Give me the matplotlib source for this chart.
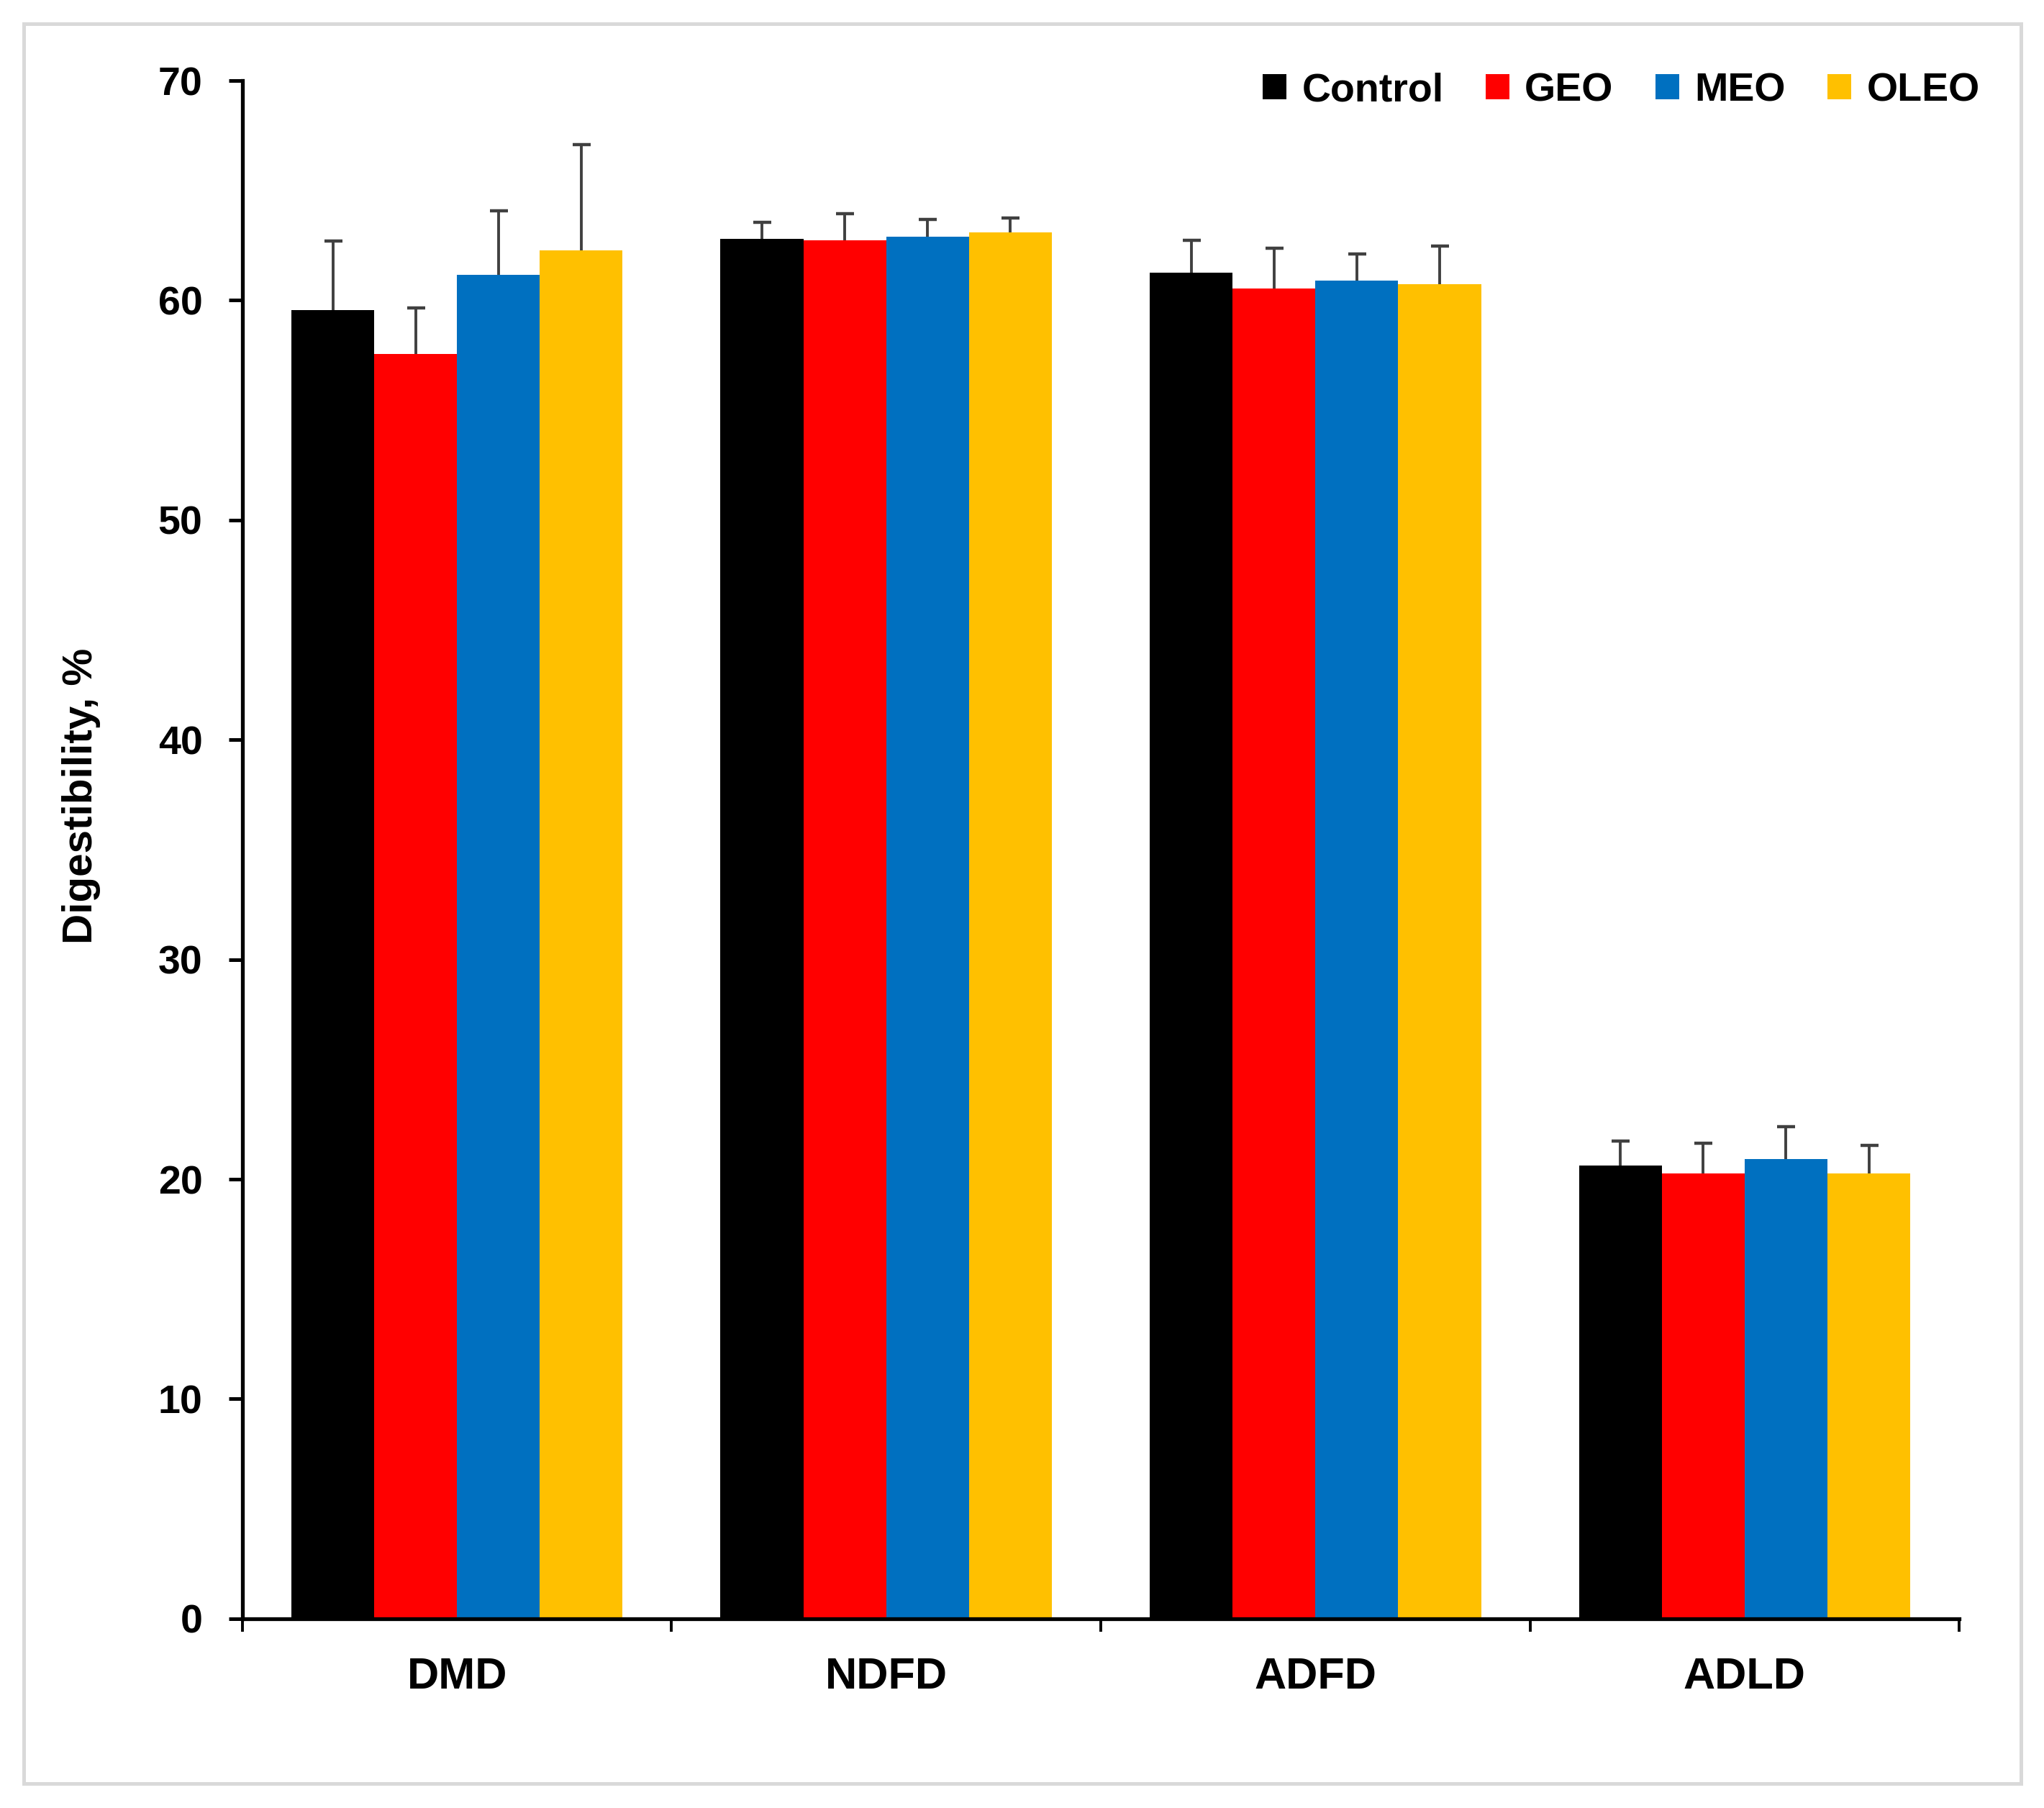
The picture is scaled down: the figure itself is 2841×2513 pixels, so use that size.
import matplotlib
matplotlib.use("Agg")
import matplotlib.pyplot as plt
from matplotlib.patches import Rectangle
import numpy as np

categories = ["DMD", "NDFD", "ADFD", "ADLD"]
series = ["Control", "GEO", "MEO", "OLEO"]
colors = ["#000000", "#FF0000", "#0070C0", "#FFC000"]
means = {
    "Control": [59.55, 62.80, 61.26, 20.62],
    "GEO":     [57.55, 62.72, 60.55, 20.28],
    "MEO":     [61.17, 62.90, 60.90, 20.92],
    "OLEO":    [62.28, 63.08, 60.74, 20.28],
}
errors = {
    "Control": [3.15, 0.75, 1.47, 1.12],
    "GEO":     [2.10, 1.22, 1.83, 1.36],
    "MEO":     [2.92, 0.77, 1.22, 1.48],
    "OLEO":    [4.80, 0.68, 1.72, 1.26],
}
yticks = [0, 10, 20, 30, 40, 50, 60, 70]

plt.rcParams['font.family'] = ['Liberation Sans', 'DejaVu Sans']
fig = plt.figure(figsize=(14.205, 12.565), dpi=200)
ax = fig.add_axes([0.1186, 0.1047, 0.8399, 0.8507])

x = np.arange(len(categories))
bw = 0.193
for i, s in enumerate(series):
    pos = x + (i - 1.5) * bw
    ax.bar(pos, means[s], width=bw, color=colors[i], label=s, zorder=2)
    eb = ax.errorbar(pos, means[s], yerr=[np.zeros(len(categories)), errors[s]],
                     fmt="none", ecolor="#404040", elinewidth=1.4, capsize=4.5,
                     capthick=1.6, zorder=3)
    caps = eb[1]
    if len(caps) > 0:
        caps[0].set_visible(False)

ax.set_xlim(-0.5, 3.5)
ax.set_ylim(0, 70)
ax.set_yticks(yticks)
ax.set_yticklabels([str(t) for t in yticks], fontsize=20, fontweight="bold")
ax.set_xticks(x)
ax.set_xticklabels(categories, fontsize=22, fontweight="bold")
ax.set_xticks(np.arange(-0.5, 4.0, 1.0), minor=True)
ax.tick_params(axis="x", which="major", length=0, pad=19)
ax.tick_params(axis="x", which="minor", length=6.5, width=1.4, direction="out")
ax.tick_params(axis="y", length=7, width=1.8, direction="out", pad=13)
for sp in ["top", "right"]:
    ax.spines[sp].set_visible(False)
for sp in ["left", "bottom"]:
    ax.spines[sp].set_linewidth(1.9)
ax.set_ylabel("Digestibility, %", fontsize=21, fontweight="bold")
ax.yaxis.set_label_coords(-0.0825, 0.535)

leg = ax.legend(loc="upper right", ncol=4, frameon=False,
                handlelength=0.6, handleheight=0.6, handletextpad=0.38,
                columnspacing=1.05, bbox_to_anchor=(1.033, 1.029),
                prop={"weight": "bold", "size": 20})

fig.patches.append(Rectangle((33 / 2841, 1 - 2479 / 2513), (2809 - 33) / 2841,
                             (2479 - 33) / 2513, transform=fig.transFigure,
                             fill=False, edgecolor="#d9d9d9", linewidth=1.8))

fig.savefig("out.png", dpi=200, facecolor="white")
